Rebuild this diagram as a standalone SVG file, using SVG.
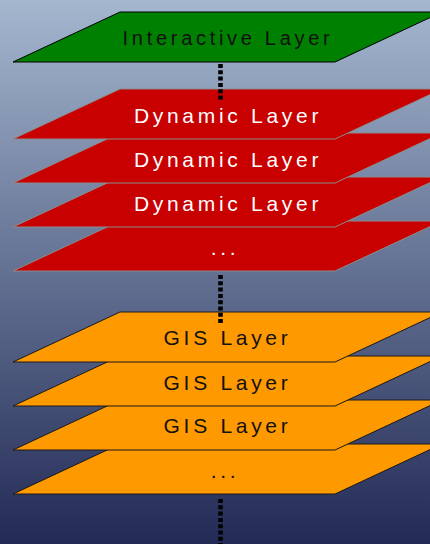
<svg xmlns="http://www.w3.org/2000/svg" width="430" height="544" viewBox="0 0 430 544">
<defs>
<linearGradient id="bg" x1="0" y1="0" x2="0" y2="1">
<stop offset="0" stop-color="#a4b7cf"/>
<stop offset="1" stop-color="#222a55"/>
</linearGradient>
<path id="slab" d="M120,0 L442,0 L335,50 L13,50 Z"/>
</defs>
<style>
.green{fill:#008000;stroke:#000;stroke-width:1}
.red{fill:#c80000;stroke:#8c8c8c;stroke-width:1}
.orange{fill:#ff9900;stroke:#1a1a1a;stroke-width:1}
.lbl{font-family:"Liberation Sans",Arial,sans-serif;font-size:21px;letter-spacing:3.7px;text-anchor:middle}
.dark{fill:#111}
.light{fill:#fff}
.conn{stroke:#000;stroke-width:4.6;stroke-dasharray:4 2.3;fill:none}
</style>
<rect x="0" y="0" width="430" height="544" fill="url(#bg)"/>
<g id="interactive">
<use href="#slab" class="green" y="12"/>
<text class="lbl dark" x="228" y="45" style="font-size:20px">Interactive Layer</text>
</g>
<g id="dynamic-more">
<use href="#slab" class="red" y="221"/>
<text class="lbl light" x="225" y="255">...</text>
</g>
<g id="dynamic-3">
<use href="#slab" class="red" y="177"/>
<text class="lbl light" x="228" y="211">Dynamic Layer</text>
</g>
<g id="dynamic-2">
<use href="#slab" class="red" y="133"/>
<text class="lbl light" x="228" y="167">Dynamic Layer</text>
</g>
<g id="dynamic-1">
<use href="#slab" class="red" y="89"/>
<text class="lbl light" x="228" y="123">Dynamic Layer</text>
</g>
<g id="gis-more">
<use href="#slab" class="orange" y="444"/>
<text class="lbl dark" x="225" y="478">...</text>
</g>
<g id="gis-3">
<use href="#slab" class="orange" y="400"/>
<text class="lbl dark" x="227.5" y="433">GIS Layer</text>
</g>
<g id="gis-2">
<use href="#slab" class="orange" y="356"/>
<text class="lbl dark" x="227.5" y="390">GIS Layer</text>
</g>
<g id="gis-1">
<use href="#slab" class="orange" y="312"/>
<text class="lbl dark" x="227.5" y="345">GIS Layer</text>
</g>
<g id="connectors">
<line class="conn" x1="220.5" y1="64" x2="220.5" y2="100"/>
<line class="conn" x1="220.5" y1="275" x2="220.5" y2="323"/>
<line class="conn" x1="220.5" y1="499" x2="220.5" y2="544"/>
</g>
</svg>
